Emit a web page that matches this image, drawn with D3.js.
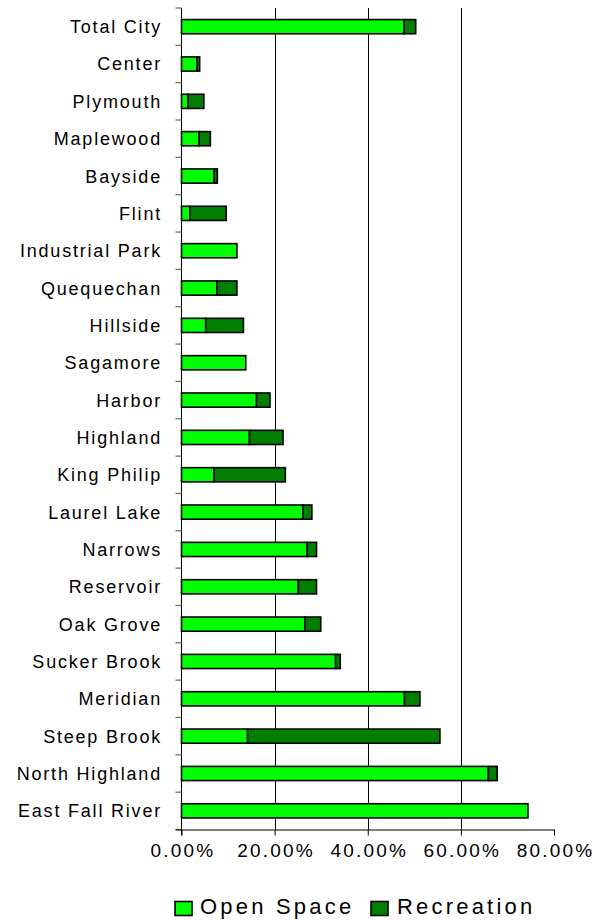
<!DOCTYPE html>
<html>
<head>
<meta charset="utf-8">
<script src="https://cdn.jsdelivr.net/npm/d3@7"></script>
<style>
  html, body { margin: 0; padding: 0; background: #fff; }
  svg { display: block; }
  text { font-family: "Liberation Sans", Arial, sans-serif; fill: #000; }
</style>
</head>
<body>
<svg id="chart" width="599" height="920"></svg>
<script>
const categories = ["Total City", "Center", "Plymouth", "Maplewood", "Bayside", "Flint",
  "Industrial Park", "Quequechan", "Hillside", "Sagamore", "Harbor", "Highland",
  "King Philip", "Laurel Lake", "Narrows", "Reservoir", "Oak Grove", "Sucker Brook",
  "Meridian", "Steep Brook", "North Highland", "East Fall River"];
const openSpace = [47.8, 3.3, 1.4, 3.8, 7.0, 1.8, 11.9, 7.6, 5.2, 13.8, 16.1, 14.6,
  7.0, 26.1, 27.0, 25.1, 26.5, 33.1, 47.9, 14.2, 65.9, 74.4];
const recreation = [2.5, 0.6, 3.4, 2.4, 0.7, 7.8, 0, 4.3, 8.1, 0, 2.9, 7.2,
  15.3, 1.9, 2.0, 3.9, 3.4, 1.0, 3.3, 41.3, 1.9, 0];
const seriesNames = ["Open Space", "Recreation"];
const seriesColors = ["#00FF00", "#007F00"];
const xTicks = [0, 20, 40, 60, 80];
const xTickLabels = ["0.00%", "20.00%", "40.00%", "60.00%", "80.00%"];

(function () {
const svg = d3.select("#chart");
const pLeft = 181.5, pRight = 554, pTop = 8, pBottom = 829.5;

const x = d3.scaleLinear().domain([0, 80]).range([pLeft, pRight]);
const y = d3.scaleBand().domain(categories).range([pTop, pBottom])
  .paddingInner(0.62).paddingOuter(0.31);

// gridlines
svg.append("g").selectAll("line").data(xTicks.filter(d => d > 0 && d < 80)).join("line")
  .attr("x1", d => Math.round(x(d)) + 0.5).attr("x2", d => Math.round(x(d)) + 0.5)
  .attr("y1", pTop).attr("y2", pBottom)
  .attr("stroke", "#000").attr("stroke-width", 1);

// stacked bars
const rows = categories.map((c, i) => ({ c, os: openSpace[i], rec: recreation[i] }));
const stack = d3.stack().keys(["os", "rec"])(rows);
const gBars = svg.append("g");
stack.forEach((layer, li) => {
  gBars.append("g").selectAll("rect").data(layer.filter(d => d[1] - d[0] > 0)).join("rect")
    .attr("x", d => x(d[0]))
    .attr("y", d => y(d.data.c))
    .attr("width", d => x(d[1]) - x(d[0]))
    .attr("height", y.bandwidth())
    .attr("fill", seriesColors[li])
    .attr("stroke", "#000")
    .attr("stroke-width", 1.6);
});

// left axis line
svg.append("line").attr("x1", pLeft).attr("x2", pLeft).attr("y1", pTop).attr("y2", pBottom + 6)
  .attr("stroke", "#000").attr("stroke-width", 1);
// category boundary ticks
const bounds = d3.range(categories.length + 1).map(i => pTop + i * y.step());
svg.append("g").selectAll("line").data(bounds).join("line")
  .attr("x1", pLeft - 6).attr("x2", pLeft)
  .attr("y1", d => d).attr("y2", d => d)
  .attr("stroke", "#666").attr("stroke-width", 1.2);

// category labels
svg.append("g").selectAll("text").data(categories).join("text")
  .attr("x", 162).attr("y", d => y(d) + y.bandwidth() / 2)
  .attr("dy", "0.36em")
  .attr("text-anchor", "end")
  .style("font-size", "18px")
  .style("letter-spacing", "1.8px")
  .text(d => d);

// bottom axis
const xAxis = d3.axisBottom(x).tickValues(xTicks).tickSize(6)
  .tickFormat((d, i) => xTickLabels[i]);
const gx = svg.append("g").attr("transform", `translate(0,${pBottom})`).call(xAxis);
gx.select(".domain").attr("d", `M${pLeft - 6},0.5H${pRight}`).attr("stroke", "#000");
gx.selectAll(".tick line").attr("stroke", "#000");
gx.selectAll(".tick text")
  .attr("y", 27).attr("dy", 0)
  .attr("dx", "1px")
  .style("font-family", "'Liberation Sans', Arial, sans-serif")
  .style("font-size", "19px")
  .style("letter-spacing", "2.2px")
  .attr("fill", "#000");

// legend
const legendItems = [
  { name: seriesNames[0], color: seriesColors[0], sx: 175, tx: 200 },
  { name: seriesNames[1], color: seriesColors[1], sx: 371, tx: 397 }
];
const gl = svg.append("g");
legendItems.forEach(it => {
  gl.append("rect").attr("x", it.sx).attr("y", 901.5).attr("width", 17).attr("height", 14)
    .attr("fill", it.color).attr("stroke", "#000").attr("stroke-width", 1.6);
  gl.append("text").attr("x", it.tx).attr("y", 914)
    .style("font-size", "22px").style("letter-spacing", "3.2px")
    .text(it.name);
});
})();
</script>
</body>
</html>
